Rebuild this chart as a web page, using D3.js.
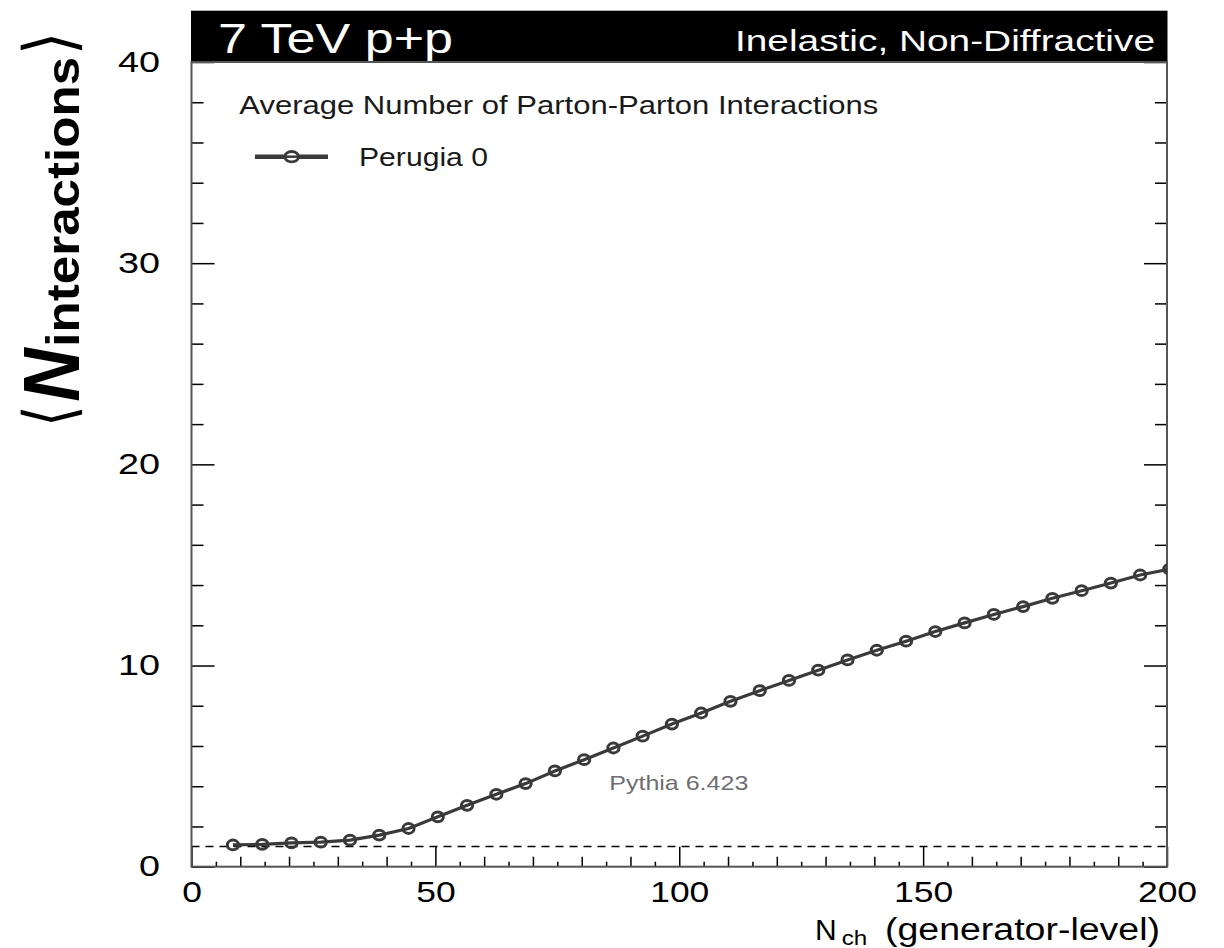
<!DOCTYPE html>
<html><head><meta charset="utf-8">
<script src="https://cdn.jsdelivr.net/npm/d3@7"></script>
<style>
body{margin:0;background:#fff}
svg{display:block}
text{font-family:"Liberation Sans",Arial,Helvetica,sans-serif}
</style>
</head><body>
<svg id="c" width="1224" height="948"></svg>
<script>
// ---- data ----
const nch = [8.5, 14.5, 20.5, 26.5, 32.5, 38.5, 44.5, 50.5, 56.5, 62.5, 68.5, 74.5, 80.5, 86.5, 92.5, 98.5, 104.5,
             110.5, 116.5, 122.5, 128.5, 134.5, 140.5, 146.5, 152.5, 158.5, 164.5, 170.5, 176.5, 182.5, 188.5, 194.5, 200.5];
const nInteractions = [1.08, 1.11, 1.18, 1.22, 1.32, 1.57, 1.90, 2.48, 3.05, 3.60, 4.13, 4.76, 5.32, 5.90, 6.49, 7.09, 7.64,
             8.22, 8.75, 9.26, 9.77, 10.28, 10.76, 11.21, 11.69, 12.12, 12.54, 12.93, 13.34, 13.72, 14.10, 14.50, 14.79];
const xTickValues = [0, 50, 100, 150, 200];
const yTickValues = [0, 10, 20, 30, 40];
const referenceLevel = [1];
const seriesName = "Perugia 0";
const headerLeft = "7 TeV p+p";
const headerRight = "Inelastic, Non-Diffractive";
const legendTitle = "Average Number of Parton-Parton Interactions";
const generatorNote = "Pythia 6.423";

// ---- layout ----
const svg = d3.select("#c");
const M = {left: 191.5, right: 1167, top: 62, bottom: 866.7};
const x = d3.scaleLinear().domain([0, 200]).range([M.left, M.right]);
const y = d3.scaleLinear().domain([0, 40]).range([M.bottom, M.top]);
const ink = "#3a3a3a";

svg.append("defs").append("clipPath").attr("id", "plotclip")
  .append("rect").attr("x", M.left).attr("y", M.top)
  .attr("width", M.right - M.left).attr("height", M.bottom - M.top);

// header bar
svg.append("rect").attr("x", M.left - 0.5).attr("y", 10.7)
  .attr("width", M.right - M.left + 1).attr("height", M.top - 10.7).attr("fill", "#000");
svg.append("text").attr("x", 218).attr("y", 52.7).attr("fill", "#fff")
  .attr("font-size", 42).attr("textLength", 235).attr("lengthAdjust", "spacingAndGlyphs").text(headerLeft);
svg.append("text").attr("x", 1155).attr("y", 51).attr("fill", "#fff").attr("text-anchor", "end")
  .attr("font-size", 30).attr("textLength", 420).attr("lengthAdjust", "spacingAndGlyphs").text(headerRight);

// ticks helper
function tickAxis(axis, tx, ty, values, size, pad, fmt) {
  const g = svg.append("g").attr("transform", `translate(${tx},${ty})`)
    .call(axis.tickValues(values).tickSize(size).tickPadding(pad).tickFormat(fmt));
  g.select(".domain").remove();
  g.selectAll(".tick line").attr("stroke", "#000").attr("stroke-width", 1.5);
  return g;
}
const yMinor = d3.range(2, 40, 2).filter(v => v % 10 !== 0);
const xMed = d3.range(10, 200, 10).filter(v => v % 50 !== 0);
const xSmall = d3.range(5, 200, 10);

const gyl = tickAxis(d3.axisLeft(y), M.left, 0, yTickValues, -23, 31.5, d3.format("d"));
tickAxis(d3.axisLeft(y), M.left, 0, yMinor, -12, 0, () => "");
tickAxis(d3.axisRight(y), M.right, 0, yTickValues, -23, 0, () => "");
tickAxis(d3.axisRight(y), M.right, 0, yMinor, -12, 0, () => "");
const gxb = tickAxis(d3.axisBottom(x), 0, M.bottom, xTickValues, -20, 14, d3.format("d"));
tickAxis(d3.axisBottom(x), 0, M.bottom, xMed, -10, 0, () => "");
tickAxis(d3.axisBottom(x), 0, M.bottom, xSmall, -5, 0, () => "");

gyl.selectAll(".tick text").attr("font-size", 29).attr("fill", "#000")
  .attr("font-family", '"Liberation Sans",Arial,sans-serif')
  .each(function(d) { d3.select(this).attr("textLength", String(d).length * 21).attr("lengthAdjust", "spacingAndGlyphs"); });
gxb.selectAll(".tick text").attr("font-size", 30).attr("fill", "#000")
  .attr("font-family", '"Liberation Sans",Arial,sans-serif')
  .each(function(d) { d3.select(this).attr("textLength", String(d).length * 19.7).attr("lengthAdjust", "spacingAndGlyphs"); });

// reference dashed line
svg.selectAll("line.ref").data(referenceLevel).join("line").attr("class", "ref")
  .attr("x1", M.left).attr("x2", M.right).attr("y1", d => y(d)).attr("y2", d => y(d))
  .attr("stroke", "#000").attr("stroke-width", 1.5).attr("stroke-dasharray", "8,6");

// frame
svg.append("rect").attr("x", M.left).attr("y", M.top)
  .attr("width", M.right - M.left).attr("height", M.bottom - M.top)
  .attr("fill", "none").attr("stroke", "#555").attr("stroke-width", 2);

// series
const pts = nch.map((v, i) => [v, nInteractions[i]]);
const gs = svg.append("g").attr("clip-path", "url(#plotclip)");
gs.append("path").datum(pts)
  .attr("d", d3.line().x(d => x(d[0])).y(d => y(d[1])))
  .attr("fill", "none").attr("stroke", ink).attr("stroke-width", 3.2);
gs.selectAll("ellipse").data(pts).join("ellipse")
  .attr("cx", d => x(d[0])).attr("cy", d => y(d[1])).attr("rx", 5.6).attr("ry", 4.9)
  .attr("fill", "none").attr("stroke", ink).attr("stroke-width", 3);

// legend
svg.append("text").attr("x", 239.3).attr("y", 114).attr("font-size", 25).attr("fill", "#1a1a1a")
  .attr("textLength", 639).attr("lengthAdjust", "spacingAndGlyphs").text(legendTitle);
svg.append("line").attr("x1", 255).attr("x2", 328).attr("y1", 156.7).attr("y2", 156.7)
  .attr("stroke", ink).attr("stroke-width", 4.5);
svg.append("ellipse").attr("cx", 291.7).attr("cy", 156.7).attr("rx", 7).attr("ry", 5.2)
  .attr("fill", "#fff").attr("stroke", ink).attr("stroke-width", 2.8);
svg.append("line").attr("x1", 285).attr("x2", 298.5).attr("y1", 156.7).attr("y2", 156.7)
  .attr("stroke", ink).attr("stroke-width", 2.5);
svg.append("text").attr("x", 359).attr("y", 165.7).attr("font-size", 25).attr("fill", "#1a1a1a")
  .attr("textLength", 129).attr("lengthAdjust", "spacingAndGlyphs").text(seriesName);

// generator note
svg.append("text").attr("x", 609.3).attr("y", 790).attr("font-size", 21).attr("fill", "#6e6e72")
  .attr("textLength", 139).attr("lengthAdjust", "spacingAndGlyphs").text(generatorNote);

// x axis title
const xt = svg.append("g").attr("class", "xtitle");
xt.append("text").attr("x", 815).attr("y", 940).attr("font-size", 30).attr("fill", "#000").text("N");
xt.append("text").attr("x", 841.7).attr("y", 945).attr("font-size", 20).attr("fill", "#000")
  .attr("textLength", 25.6).attr("lengthAdjust", "spacingAndGlyphs").text("ch");
xt.append("text").attr("x", 885).attr("y", 940).attr("font-size", 31).attr("fill", "#000")
  .attr("textLength", 275).attr("lengthAdjust", "spacingAndGlyphs").text("(generator-level)");

// y axis title (rotated)
const brFont = '"DejaVu Sans ExtraLight","DejaVu Sans",sans-serif';
const yt = svg.append("g").attr("transform", "translate(79,426.7) rotate(-90)");
yt.append("text").attr("x", 0).attr("y", -6).attr("font-size", 69).attr("font-family", brFont).attr("font-weight", 200)
  .attr("textLength", 21.7).attr("lengthAdjust", "spacingAndGlyphs").text("⟨");
yt.append("text").attr("x", 25).attr("y", 0).attr("font-size", 79).attr("font-weight", "bold").attr("font-style", "italic")
  .attr("textLength", 53.4).attr("lengthAdjust", "spacingAndGlyphs").text("N");
yt.append("text").attr("x", 80).attr("y", 0).attr("font-size", 46).attr("font-weight", "bold")
  .attr("textLength", 290).attr("lengthAdjust", "spacingAndGlyphs").text("interactions");
yt.append("text").attr("x", 371.7).attr("y", -6).attr("font-size", 69).attr("font-family", brFont).attr("font-weight", 200)
  .attr("textLength", 23.3).attr("lengthAdjust", "spacingAndGlyphs").text("⟩");
</script>
</body></html>
